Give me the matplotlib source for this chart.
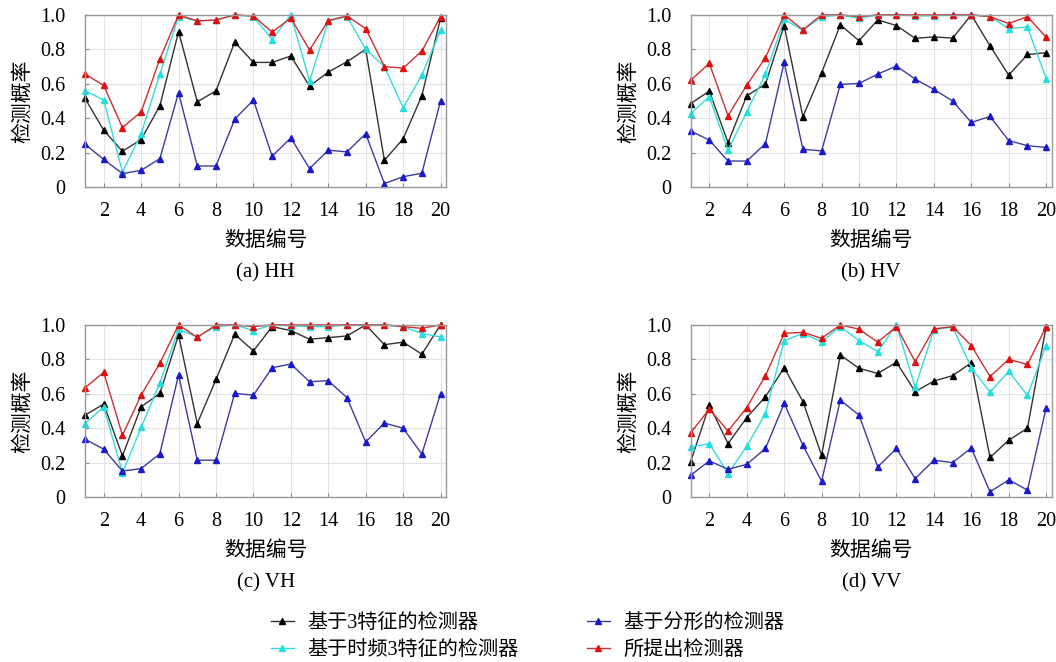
import matplotlib
matplotlib.use('Agg')
import matplotlib.pyplot as plt
import numpy as np

plt.rcParams['font.family'] = ['Liberation Serif', 'Noto Sans CJK SC']

# 数据编号 1..20
data_idx = np.arange(1, 21)

# (a) HH
hh_3feat = [0.515, 0.33, 0.208, 0.276, 0.472, 0.903, 0.495, 0.559, 0.842, 0.724,
            0.724, 0.761, 0.586, 0.668, 0.728, 0.80, 0.155, 0.28, 0.53, 0.98]
hh_tf3feat = [0.56, 0.505, 0.087, 0.31, 0.656, 0.99, 0.965, 0.97, 1.0, 0.99,
              0.857, 1.0, 0.615, 0.965, 0.99, 0.80, 0.70, 0.46, 0.65, 0.91]
hh_fractal = [0.249, 0.16, 0.078, 0.097, 0.165, 0.548, 0.122, 0.122, 0.394, 0.505,
              0.179, 0.285, 0.107, 0.214, 0.204, 0.31, 0.02, 0.06, 0.08, 0.50]
hh_proposed = [0.656, 0.59, 0.345, 0.437, 0.744, 1.0, 0.965, 0.97, 1.0, 0.994,
               0.9, 0.982, 0.796, 0.967, 0.994, 0.92, 0.70, 0.69, 0.79, 0.99]

# (b) HV
hv_3feat = [0.485, 0.557, 0.258, 0.53, 0.598, 0.938, 0.408, 0.664, 0.942, 0.85,
            0.971, 0.938, 0.864, 0.872, 0.865, 1.0, 0.82, 0.65, 0.77, 0.78]
hv_tf3feat = [0.427, 0.524, 0.214, 0.437, 0.656, 0.975, 0.91, 0.99, 1.0, 0.98,
              1.0, 1.0, 0.995, 0.995, 1.0, 1.0, 0.99, 0.92, 0.93, 0.63]
hv_fractal = [0.326, 0.272, 0.151, 0.151, 0.252, 0.724, 0.219, 0.21, 0.596, 0.602,
              0.656, 0.703, 0.627, 0.567, 0.50, 0.375, 0.41, 0.27, 0.24, 0.23]
hv_proposed = [0.62, 0.718, 0.414, 0.592, 0.751, 1.0, 0.913, 1.0, 1.0, 0.99,
               1.0, 1.0, 1.0, 1.0, 1.0, 1.0, 0.99, 0.95, 0.99, 0.87]

# (c) VH
vh_3feat = [0.476, 0.54, 0.239, 0.524, 0.602, 0.942, 0.427, 0.683, 0.946, 0.849,
            0.99, 0.967, 0.917, 0.926, 0.936, 1.0, 0.885, 0.90, 0.83, 1.0]
vh_tf3feat = [0.427, 0.524, 0.14, 0.404, 0.664, 0.975, 0.93, 0.99, 1.0, 0.967,
              1.0, 0.995, 0.99, 0.99, 1.0, 1.0, 1.0, 0.99, 0.95, 0.93]
vh_fractal = [0.336, 0.278, 0.151, 0.165, 0.252, 0.709, 0.214, 0.214, 0.602, 0.592,
              0.751, 0.773, 0.67, 0.676, 0.577, 0.32, 0.43, 0.40, 0.25, 0.60]
vh_proposed = [0.635, 0.724, 0.359, 0.592, 0.777, 1.0, 0.928, 1.0, 1.0, 0.99,
               1.0, 1.0, 1.0, 1.0, 1.0, 1.0, 1.0, 0.99, 0.98, 1.0]

# (d) VV
vv_3feat = [0.204, 0.534, 0.31, 0.462, 0.583, 0.751, 0.555, 0.243, 0.825, 0.748,
            0.718, 0.783, 0.612, 0.674, 0.705, 0.78, 0.23, 0.33, 0.40, 0.99]
vv_tf3feat = [0.291, 0.31, 0.136, 0.295, 0.485, 0.909, 0.95, 0.903, 0.99, 0.909,
              0.845, 1.0, 0.637, 0.97, 0.99, 0.75, 0.61, 0.73, 0.59, 0.88]
vv_fractal = [0.126, 0.21, 0.161, 0.19, 0.282, 0.544, 0.301, 0.091, 0.563, 0.476,
              0.175, 0.282, 0.107, 0.214, 0.2, 0.285, 0.03, 0.10, 0.04, 0.52]
vv_proposed = [0.373, 0.511, 0.383, 0.52, 0.705, 0.951, 0.957, 0.922, 1.0, 0.975,
               0.9, 0.99, 0.786, 0.977, 0.99, 0.88, 0.70, 0.80, 0.77, 0.99]

series_names = ['基于3特征的检测器', '基于时频3特征的检测器', '基于分形的检测器', '所提出检测器']
series_colors = ['black', '#22e0e0', '#1a1acc', '#e01010']
line_colors = ['#333333', '#33dddd', '#3c3ca0', '#d03030']

panels = [
    ('(a) HH', [hh_3feat, hh_tf3feat, hh_fractal, hh_proposed]),
    ('(b) HV', [hv_3feat, hv_tf3feat, hv_fractal, hv_proposed]),
    ('(c) VH', [vh_3feat, vh_tf3feat, vh_fractal, vh_proposed]),
    ('(d) VV', [vv_3feat, vv_tf3feat, vv_fractal, vv_proposed]),
]

fig = plt.figure(figsize=(10.56, 6.62), dpi=100)
positions = [
    [0.0805, 0.7175, 0.342, 0.26],
    [0.654, 0.7175, 0.342, 0.26],
    [0.0805, 0.2492, 0.342, 0.26],
    [0.654, 0.2492, 0.342, 0.26],
]

handles = []
for (caption, vals), pos in zip(panels, positions):
    ax = fig.add_axes(pos)
    hs = []
    for v, c, lc, name in zip(vals, series_colors, line_colors, series_names):
        h, = ax.plot(data_idx, v, color=lc, lw=1.0, marker='^', markersize=4.5,
                     markerfacecolor=c, markeredgecolor=c, label=name, clip_on=False)
        hs.append(h)
    handles = hs
    ax.set_xlim(1, 20.3)
    ax.set_ylim(0, 1)
    ax.set_xticks(np.arange(2, 21, 2))
    ax.set_yticks([0, 0.2, 0.4, 0.6, 0.8, 1.0])
    ax.set_yticklabels(['0', '0.2', '0.4', '0.6', '0.8', '1.0'])
    ax.tick_params(labelsize=14.5, direction='in', length=3, color='#888888')
    ax.tick_params(axis='x', pad=11)
    ax.tick_params(axis='y', pad=14)
    ax.grid(True, color='#e3e3e3', lw=0.8)
    for s in ax.spines.values():
        s.set_color('#999999')
        s.set_linewidth(1.0)
    ax.set_xlabel('数据编号', fontsize=15, labelpad=7)
    ax.set_ylabel('检测概率', fontsize=15, labelpad=5)
    ax.text(0.5, -0.5, caption, transform=ax.transAxes, ha='center', va='center',
            fontsize=15)

fig.legend(handles, series_names, loc='center', bbox_to_anchor=(0.5, 0.038),
           ncol=2, frameon=False, fontsize=14.5, handlelength=1.1,
           columnspacing=3.4, labelspacing=0.4, handletextpad=0.7)

fig.savefig('out.png', dpi=100)
